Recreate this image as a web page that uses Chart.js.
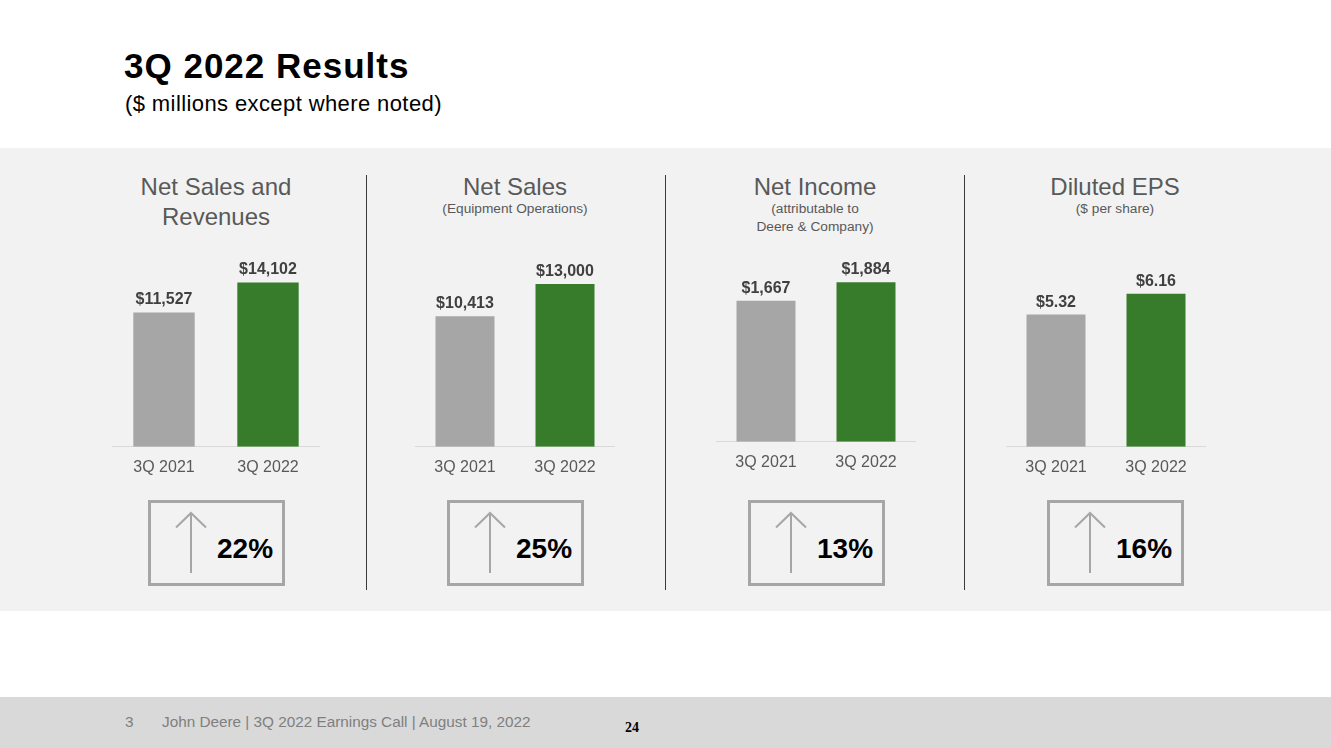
<!DOCTYPE html>
<html>
<head>
<meta charset="utf-8">
<title>3Q 2022 Results</title>
<script src="https://cdn.jsdelivr.net/npm/chart.js@4.4.0/dist/chart.umd.min.js"></script>
<style>
	body {
		margin: 0;
		width: 1331px;
		height: 748px;
		position: relative;
		overflow: hidden;
		background: #fff;
		font-family: "Liberation Sans", Arial, sans-serif;
	}
	.abs { position: absolute; }
	.page-title { left: 124px; top: 48px; font-size: 35px; line-height: 35px; letter-spacing: 1px; font-weight: bold; color: #000; white-space: nowrap; }
	.page-sub { left: 125px; top: 93px; font-size: 22px; line-height: 22px; letter-spacing: 0.4px; color: #000; white-space: nowrap; }
	.band { left: 0; top: 148px; width: 1331px; height: 463px; background: #f2f2f2; }
	.footer { left: 0; top: 697px; width: 1331px; height: 51px; background: #d9d9d9; }
	.foot-text { top: 713px; font-size: 15.3px; line-height: 18px; color: #7f7f7f; white-space: nowrap; }
	.foot-page { left: 625px; top: 719px; font-family: "Liberation Serif", "Times New Roman", serif; font-weight: bold; font-size: 14px; line-height: 18px; color: #000; }
	.chart-title { width: 280px; text-align: center; color: #595959; font-size: 24px; line-height: 30px; top: 172px; }
	.chart-sub { width: 280px; text-align: center; color: #595959; font-size: 13.7px; line-height: 17.5px; top: 200px; }
	.divider { top: 175px; width: 1px; height: 415px; background: #3a3a3a; }
	.box { top: 500px; width: 137px; height: 86px; box-sizing: border-box; border: 3px solid #a6a6a6; }
	.box svg { position: absolute; left: -3px; top: -3px; }
	.pct { position: absolute; left: 66px; top: 32px; font-size: 28px; line-height: 28px; font-weight: bold; color: #000; }
</style>
</head>
<body>
<div class="abs band"></div>
<div class="abs footer"></div>
<div class="abs page-title">3Q 2022 Results</div>
<div class="abs page-sub">($ millions except where noted)</div>
<div class="abs foot-text" style="left:125px">3</div>
<div class="abs foot-text" style="left:162px">John Deere | 3Q 2022 Earnings Call | August 19, 2022</div>
<div class="abs foot-page">24</div>
<div id="panels"></div>

<script>
	//--------------------------------------------
	// Data
	//--------------------------------------------
	const CATEGORIES = ["3Q 2021", "3Q 2022"];
	const NET_SALES_REVENUES = [11527, 14102];
	const NET_SALES_EQUIPMENT = [10413, 13000];
	const NET_INCOME = [1667, 1884];
	const DILUTED_EPS = [5.32, 6.16];
	const CHANGE_PCT = [22, 25, 13, 16];

	const TITLES = ["Net Sales and<br>Revenues", "Net Sales", "Net Income", "Diluted EPS"];
	const SUBTITLES = ["", "(Equipment Operations)", "(attributable to<br>Deere &amp; Company)", "($ per share)"];

	const BAR_COLORS = ["#a6a6a6", "#367c2b"];
	const FONT = "'Liberation Sans', Arial, sans-serif";

	const money = (v) => "$" + v.toLocaleString("en-US");
	const perShare = (v) => "$" + v.toFixed(2);

	// layout of each panel (page pixels)
	const PANELS = [
		{ data: NET_SALES_REVENUES, fmt: money, max: 18600, left: 112, width: 208, top: 230, cx: 216, box: 148 },
		{ data: NET_SALES_EQUIPMENT, fmt: money, max: 17300, left: 415, width: 200, top: 230, cx: 515, box: 447 },
		{ data: NET_INCOME, fmt: money, max: 2560, left: 716, width: 200, top: 225, cx: 815, box: 748 },
		{ data: DILUTED_EPS, fmt: perShare, max: 8.72, left: 1006, width: 200, top: 230, cx: 1115, box: 1047 },
	];
	const DIVIDERS = [366, 665, 964];

	//--------------------------------------------
	// Markup
	//--------------------------------------------
	const WRAPPER = document.getElementById("panels");
	let html = "";

	PANELS.forEach((p, i) => {
		html += `<div class="abs chart-title" style="left:${p.cx - 140}px">${TITLES[i]}</div>
			<div class="abs chart-sub" style="left:${p.cx - 140}px">${SUBTITLES[i]}</div>
			<div class="abs" style="left:${p.left}px;top:${p.top}px;width:${p.width}px;height:250px">
				<canvas id="chart-${i}"></canvas>
			</div>
			<div class="abs box" style="left:${p.box}px">
				<svg width="137" height="86">
					<path d="M43 73 L43 13 M28 27.5 L43 13 L58 27.5" fill="none" stroke="#a6a6a6" stroke-width="2"/>
				</svg>
				<div class="pct">${CHANGE_PCT[i]}%</div>
			</div>`;
	});

	DIVIDERS.forEach((x) => {
		html += `<div class="abs divider" style="left:${x}px"></div>`;
	});

	WRAPPER.innerHTML = html;

	//--------------------------------------------
	// Charts
	//--------------------------------------------
	const valueLabels = (fmt) => ({
		id: "valueLabels",
		afterDatasetsDraw(chart) {
			const { ctx } = chart;
			const values = chart.data.datasets[0].data;
			ctx.save();
			ctx.font = `bold 16px ${FONT}`;
			ctx.fillStyle = "#404040";
			ctx.textAlign = "center";
			ctx.textBaseline = "alphabetic";
			chart.getDatasetMeta(0).data.forEach((bar, i) => {
				ctx.fillText(fmt(values[i]), bar.x, bar.y - 8);
			});
			ctx.restore();
		},
	});

	PANELS.forEach((p, i) => {
		new Chart(document.getElementById(`chart-${i}`), {
			type: "bar",
			data: {
				labels: CATEGORIES,
				datasets: [
					{
						data: p.data,
						backgroundColor: BAR_COLORS,
						borderWidth: 0,
						barPercentage: 0.59,
						categoryPercentage: 1,
					},
				],
			},
			options: {
				responsive: true,
				maintainAspectRatio: false,
				animation: false,
				layout: { padding: 0 },
				scales: {
					x: {
						grid: { display: false },
						border: { display: true, color: "#d9d9d9", width: 1 },
						ticks: {
							color: "#595959",
							font: { size: 16, family: FONT },
							padding: 3,
						},
					},
					y: {
						display: false,
						min: 0,
						max: p.max,
					},
				},
				plugins: {
					legend: { display: false },
					title: { display: false },
					tooltip: { enabled: false },
				},
			},
			plugins: [valueLabels(p.fmt)],
		});
	});
</script>
</body>
</html>
